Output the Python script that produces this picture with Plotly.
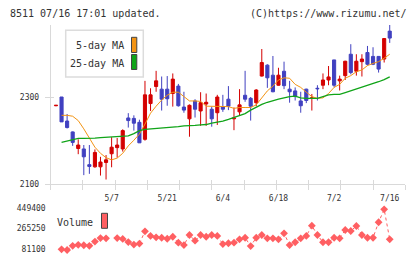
import plotly.graph_objects as go

W, H = 420, 259

# ---- data ----
date_pos = [10, 20, 30, 40, 50, 60]
date_labels = ["5/7", "5/21", "6/4", "6/18", "7/2", "7/16"]

open_ = [2280, 2300, 2245, 2220, 2182, 2181, 2145, 2140, 2140, 2150, 2170, 2184, 2181, 2252, 2251, 2242,
         2203, 2285, 2324, 2318, 2318, 2308, 2325, 2277, 2250, 2291, 2268, 2284,
         2272, 2264, 2277, 2295, 2250, 2266, 2304, 2297, 2287, 2348, 2373, 2350, 2327, 2359, 2318, 2314,
         2291, 2318, 2297, 2320, 2327, 2339, 2385, 2337, 2349, 2398, 2359, 2381, 2402, 2393, 2393, 2387, 2451]
close = [2281, 2243, 2230, 2196, 2190, 2163, 2141, 2173, 2151, 2156, 2185, 2190, 2223, 2246, 2240, 2195,
         2305, 2305, 2337, 2295, 2296, 2341, 2280, 2270, 2281, 2272, 2287, 2288,
         2250, 2300, 2272, 2279, 2252, 2282, 2295, 2279, 2316, 2379, 2344, 2312, 2350, 2326, 2312, 2301,
         2280, 2292, 2298, 2319, 2339, 2346, 2327, 2341, 2382, 2356, 2382, 2387, 2375, 2375, 2364, 2434, 2435]
high = [2281, 2300, 2261, 2221, 2203, 2190, 2190, 2180, 2163, 2167, 2208, 2206, 2226, 2263, 2258, 2248,
        2337, 2320, 2360, 2347, 2348, 2354, 2330, 2312, 2283, 2295, 2311, 2308,
        2278, 2305, 2305, 2325, 2276, 2318, 2360, 2300, 2318, 2410, 2375, 2394, 2367, 2381, 2337, 2322,
        2312, 2319, 2307, 2327, 2354, 2371, 2385, 2349, 2383, 2421, 2398, 2398, 2417, 2414, 2394, 2435, 2465]
low = [2279, 2243, 2228, 2188, 2169, 2121, 2124, 2138, 2120, 2111, 2139, 2161, 2175, 2230, 2223, 2195,
       2200, 2268, 2312, 2269, 2280, 2278, 2278, 2264, 2209, 2253, 2234, 2234,
       2232, 2236, 2266, 2270, 2224, 2258, 2289, 2246, 2279, 2347, 2321, 2311, 2326, 2318, 2287, 2292,
       2264, 2286, 2269, 2292, 2318, 2327, 2322, 2315, 2339, 2352, 2349, 2347, 2372, 2373, 2356, 2379, 2424]

ma5 = [None, 2258, 2258, 2256, 2246, 2227, 2205, 2185, 2171, 2161, 2156, 2160, 2171, 2188, 2201, 2215,
       2238, 2263, 2279, 2293, 2304, 2311, 2311, 2301, 2291, 2291, 2290, 2279,
       2279, 2278, 2278, 2278, 2274, 2276, 2276, 2276, 2282, 2297, 2314, 2325, 2339, 2344, 2343, 2329,
       2322, 2311, 2301, 2297, 2298, 2308, 2322, 2329, 2343, 2349, 2358, 2362, 2372, 2377, 2381, 2389, 2398]
ma25 = [None, 2196, 2199, 2203, 2205, 2205, 2205, 2206, 2207, 2208, 2208, 2209, 2210, 2211, 2216, 2223,
        2226, 2227, 2227, 2228, 2229, 2231, 2232, 2234, 2234, 2235, 2236, 2237,
        2240, 2242, 2245, 2249, 2253, 2257, 2262, 2270, 2277, 2283, 2288, 2292, 2295, 2298, 2301, 2302,
        2298, 2297, 2297, 2297, 2301, 2305, 2306, 2306, 2310, 2314, 2319, 2322, 2326, 2330, 2335, 2340, 2346]

volume = [None, 78000, 72000, 110000, 119000, 115000, 110000, 148000, 180000, 178000, None, 180000, 172000,
          144000, 121000, 130000, 241000, 199000, 187000, 183000, 174000, 192000, 138000, 117000, 208000,
          156000, 208000, 192000,
          208000, 199000, 126000, 133000, 138000, 169000, 183000, 108000, 183000, 208000, 178000, 178000,
          169000, 223000, 117000, 142000, 178000, 199000, 292000, 208000, 142000, 142000, 183000, 178000,
          253000, 244000, 289000, 208000, 183000, 183000, 323000, 440000, 169000]

price_ticks = [2100, 2300]
volume_ticks = [81100, 265250, 449400]
volume_tick_labels = ["81100", "265250", "449400"]

idx = list(range(len(open_)))

RED = "#d40000"
BLUE = "#4040c0"
ORANGE = "#f39414"
GREEN = "#10a418"
PINK = "#ff5f62"
AX = "#d9d9d9"
TXT = "#333333"
FONT = "DejaVu Sans Mono"


def pxx(x):
    return x / W


def pyy(y):
    return 1 - y / H


xdom = [pxx(50.7), pxx(405.3)]
xrange = [-0.95, 62.8]

fig = go.Figure()
fig.add_trace(go.Candlestick(
    x=idx, open=open_, high=high, low=low, close=close,
    increasing=dict(line=dict(color=RED, width=1), fillcolor=RED),
    decreasing=dict(line=dict(color=BLUE, width=1), fillcolor=BLUE),
    whiskerwidth=0, showlegend=False, hoverinfo="skip",
    xaxis="x", yaxis="y"))
fig.add_trace(go.Scatter(x=idx, y=ma5, mode="lines", line=dict(color=ORANGE, width=1),
                         showlegend=False, hoverinfo="skip", xaxis="x", yaxis="y"))
fig.add_trace(go.Scatter(x=idx, y=ma25, mode="lines", line=dict(color=GREEN, width=1.3),
                         showlegend=False, hoverinfo="skip", xaxis="x", yaxis="y"))
fig.add_trace(go.Scatter(x=idx, y=volume, mode="lines+markers",
                         marker=dict(symbol="diamond", size=6, color=PINK, line=dict(width=0)),
                         line=dict(color=PINK, width=1, dash="dot"), connectgaps=False,
                         cliponaxis=False, showlegend=False, hoverinfo="skip",
                         xaxis="x2", yaxis="y2"))
# empty traces so the tick-only overlay axes are drawn
fig.add_trace(go.Scatter(x=[None], y=[None], xaxis="x3", yaxis="y", showlegend=False))
fig.add_trace(go.Scatter(x=[None], y=[None], xaxis="x4", yaxis="y", showlegend=False))
fig.add_trace(go.Scatter(x=[None], y=[None], xaxis="x", yaxis="y3", showlegend=False))

fig.update_layout(
    width=W, height=H, margin=dict(l=0, r=0, t=0, b=0),
    paper_bgcolor="white", plot_bgcolor="white",
    font=dict(family=FONT, size=8, color=TXT),
    boxgap=0.2,
    xaxis=dict(domain=xdom, range=xrange, anchor="y", showgrid=False, zeroline=False,
               showline=True, linecolor=AX, linewidth=1, ticks="",
               tickvals=date_pos, ticktext=date_labels, tickfont=dict(size=8, family=FONT, color=TXT),
               ticklabelstandoff=6, rangeslider=dict(visible=False), automargin=False, fixedrange=True),
    xaxis3=dict(domain=xdom, range=[0, 11], overlaying="x", anchor="y", side="bottom",
                tickvals=list(range(12)), ticks="outside", ticklen=5, tickcolor=AX, tickwidth=1,
                showticklabels=False, showgrid=False, zeroline=False, showline=False, automargin=False),
    xaxis4=dict(domain=xdom, range=[0, 11], overlaying="x", anchor="y", side="bottom",
                tickvals=list(range(12)), ticks="inside", ticklen=4, tickcolor=AX, tickwidth=1,
                showticklabels=False, showgrid=False, zeroline=False, showline=False, automargin=False),
    yaxis=dict(domain=[pyy(184.3), pyy(25)], range=[2100, 2465], anchor="x",
               showgrid=False, zeroline=False, showline=True, linecolor=AX, linewidth=1,
               tickvals=price_ticks, ticks="outside", ticklen=5, tickcolor=AX,
               tickfont=dict(size=8, family=FONT, color=TXT), ticklabelstandoff=4, automargin=False,
               fixedrange=True),
    yaxis3=dict(domain=[pyy(184.3), pyy(25)], range=[2100, 2465], overlaying="y", anchor="x",
                tickvals=price_ticks, ticks="inside", ticklen=3, tickcolor=AX,
                showticklabels=False, showgrid=False, zeroline=False, showline=False, automargin=False),
    xaxis2=dict(domain=xdom, range=xrange, anchor="y2", showgrid=False, zeroline=False,
                showline=False, ticks="", showticklabels=False, automargin=False),
    yaxis2=dict(domain=[pyy(252), pyy(205)], range=[53950, 479256], anchor="x2",
                showgrid=False, zeroline=False, showline=False, ticks="",
                tickvals=volume_ticks, ticktext=volume_tick_labels,
                tickfont=dict(size=8, family=FONT, color=TXT), ticklabelstandoff=4, automargin=False),
)

shapes = [
    # legend box
    dict(type="rect", xref="paper", yref="paper", x0=pxx(65.7), x1=pxx(143.3), y0=pyy(77), y1=pyy(30.3),
         line=dict(color="#dcdcdc", width=1.5), fillcolor="white", layer="above"),
    dict(type="rect", xref="paper", yref="paper", x0=pxx(131.5), x1=pxx(136.8), y0=pyy(52.5), y1=pyy(37.3),
         line=dict(color="#444444", width=1), fillcolor=ORANGE, layer="above"),
    dict(type="rect", xref="paper", yref="paper", x0=pxx(131.5), x1=pxx(136.8), y0=pyy(69.5), y1=pyy(54.5),
         line=dict(color="#444444", width=1), fillcolor=GREEN, layer="above"),
    dict(type="rect", xref="paper", yref="paper", x0=pxx(101.5), x1=pxx(107.5), y0=pyy(228.3), y1=pyy(213.3),
         line=dict(color="#444444", width=1), fillcolor=PINK, layer="above"),
]
fig.update_layout(shapes=shapes)

ann = [
    dict(text="8511 07/16 17:01 updated.", x=pxx(8), y=pyy(13), xanchor="left", yanchor="middle"),
    dict(text="(C)https://www.rizumu.net/", x=pxx(408.5), y=pyy(13), xanchor="right", yanchor="middle"),
    dict(text="5-day MA", x=pxx(125.5), y=pyy(45.5), xanchor="right", yanchor="middle"),
    dict(text="25-day MA", x=pxx(125.5), y=pyy(63.5), xanchor="right", yanchor="middle"),
    dict(text="Volume", x=pxx(94.5), y=pyy(222), xanchor="right", yanchor="middle"),
]
for a in ann:
    a.update(xref="paper", yref="paper", showarrow=False,
             font=dict(family=FONT, size=10, color=TXT))
fig.update_layout(annotations=ann)

fig.write_html("out.html")
